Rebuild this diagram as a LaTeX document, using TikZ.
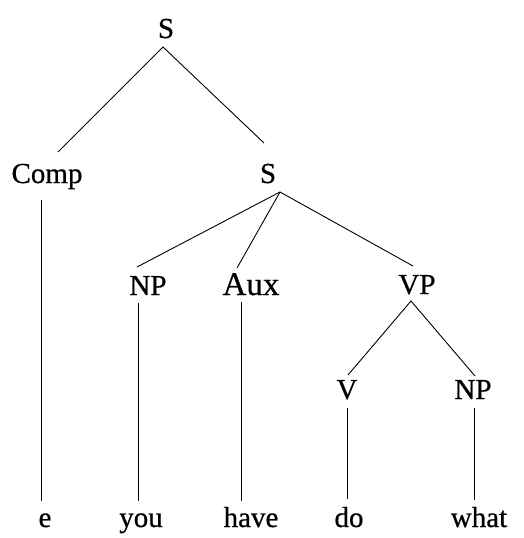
\documentclass[tikz,border=0pt]{standalone}
\usepackage{fontspec}
\setmainfont{Liberation Serif}
\newfontfamily\treefont[FakeBold=0.6]{Liberation Serif}
\begin{document}
\begin{tikzpicture}[x=1pt,y=-1pt,
  cat/.style={anchor=base,inner sep=0pt,font=\treefont\fontsize{29}{32}\selectfont},
  bigcat/.style={cat,font=\treefont\fontsize{33}{36}\selectfont},
  branch/.style={line width=0.9pt,black}]
\useasboundingbox (0,0) rectangle (523,538);

% category labels (positioned on their baselines)
\node[cat] (s1)   at (166,38)  {S};
\node[cat] (comp) at (47,183)  {Comp};
\node[cat] (s2)   at (268,183) {S};
\node[cat] (np1)  at (148,295) {NP};
\node[bigcat] (aux) at (251,295) {Aux};
\node[cat] (vp)   at (417,294) {VP};
\node[cat] (v)    at (347,399) {V};
\node[cat] (np2)  at (473,399) {NP};

% terminal words
\node[cat] (we)    at (45,527)  {e};
\node[cat] (wyou)  at (141,527) {you};
\node[cat] (whave) at (251,527) {have};
\node[cat] (wdo)   at (349,527) {do};
\node[cat] (wwhat) at (479,527) {what};

% branch end points
\coordinate (s1-b)   at (163,47);
\coordinate (comp-t) at (58,152);
\coordinate (s2-t)   at (264,143);
\coordinate (s2-b)   at (280,192);
\coordinate (np1-t)  at (137,267);
\coordinate (aux-t)  at (237,268);
\coordinate (vp-t)   at (413,266);
\coordinate (vp-b)   at (411,301);
\coordinate (v-t)    at (348,375);
\coordinate (np2-t)  at (475,376);

\coordinate (comp-b) at (41,200);
\coordinate (e-t)    at (41,501);
\coordinate (np1-b)  at (138,303);
\coordinate (you-t)  at (138,501);
\coordinate (aux-b)  at (241,302);
\coordinate (have-t) at (241,501);
\coordinate (v-b)    at (347,408);
\coordinate (do-t)   at (347,499);
\coordinate (np2-b)  at (474,408);
\coordinate (what-t) at (474,500);

% branches
\draw[branch] (comp-t) -- (s1-b) -- (s2-t);
\draw[branch] (np1-t) -- (s2-b) -- (vp-t);
\draw[branch] (s2-b) -- (aux-t);
\draw[branch] (v-t) -- (vp-b) -- (np2-t);
\draw[branch] (comp-b) -- (e-t);
\draw[branch] (np1-b) -- (you-t);
\draw[branch] (aux-b) -- (have-t);
\draw[branch] (v-b) -- (do-t);
\draw[branch] (np2-b) -- (what-t);
\end{tikzpicture}
\end{document}
